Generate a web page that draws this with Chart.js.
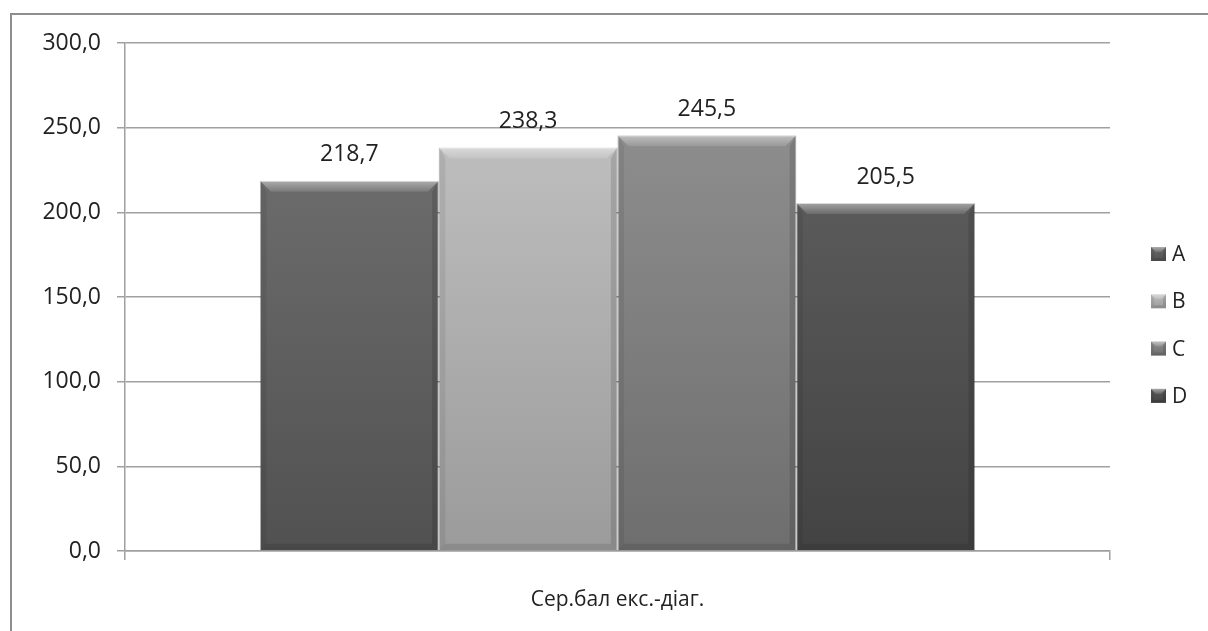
<!DOCTYPE html>
<html>
<head>
<meta charset="utf-8">
<script src="https://cdn.jsdelivr.net/npm/chart.js@4"></script>
<style>
  html, body { margin: 0; padding: 0; background: #fff; overflow: hidden; }
  #frame { position: absolute; left: 10px; top: 13px; width: 1300px; height: 700px; border: 2px solid #8e8e8e; box-sizing: border-box; }
  #wrap { position: absolute; left: 0; top: 0; width: 1208px; height: 631px; }
</style>
</head>
<body>
<div id="frame"></div>
<div id="wrap"><canvas id="scoreChart"></canvas></div>
<script>
const categories = ['Сер.бал екс.-діаг.'];
const groups = ['A', 'B', 'C', 'D'];
const scores = [218.7, 238.3, 245.5, 205.5];
const yTicks = [0, 50, 100, 150, 200, 250, 300];

// face shading per bar, lighter at the top
const shadeTop = ['#6b6b6b', '#bdbdbd', '#8d8d8d', '#5a5a5a'];
const shadeBottom = ['#515151', '#9b9b9b', '#6e6e6e', '#434343'];

const FONT = "'Open Sans', 'DejaVu Sans', sans-serif";
const fmt = v => Number(v).toFixed(1).replace('.', ',');

function poly(c, pts, fill) {
    c.beginPath();
    c.moveTo(pts[0][0], pts[0][1]);
    for (let k = 1; k < pts.length; k++) c.lineTo(pts[k][0], pts[k][1]);
    c.closePath();
    c.fillStyle = fill;
    c.fill();
}

// bevelled edges on a rectangle
function drawBevel(c, l, r, top, bottom, b) {
    const g = c.createLinearGradient(0, top, 0, top + b);
    g.addColorStop(0, 'rgba(255,255,255,0.45)');
    g.addColorStop(1, 'rgba(255,255,255,0.10)');
    poly(c, [[l, top], [r, top], [r - b, top + b], [l + b, top + b]], g);
    const s = b * 0.6;
    poly(c, [[l, top], [l + s, top + b], [l + s, bottom - s], [l, bottom]], 'rgba(0,0,0,0.07)');
    poly(c, [[r, top], [r - s, top + b], [r - s, bottom - s], [r, bottom]], 'rgba(0,0,0,0.12)');
    poly(c, [[l, bottom], [l + s, bottom - s], [r - s, bottom - s], [r, bottom]], 'rgba(0,0,0,0.10)');
}

const bevelPlugin = {
    id: 'bevel',
    afterDatasetsDraw(chart) {
        const c = chart.ctx;
        c.save();
        chart.data.datasets.forEach((ds, i) => {
            chart.getDatasetMeta(i).data.forEach(bar => {
                const { x, y, width, base } = bar.getProps(['x', 'y', 'width', 'base'], true);
                drawBevel(c, x - width / 2, x + width / 2, y, base, 11);
            });
        });
        c.restore();
    }
};

const valueLabels = {
    id: 'valueLabels',
    afterDatasetsDraw(chart) {
        const c = chart.ctx;
        c.save();
        c.font = '23px ' + FONT;
        c.fillStyle = '#222';
        c.textAlign = 'center';
        c.textBaseline = 'middle';
        chart.data.datasets.forEach((ds, i) => {
            chart.getDatasetMeta(i).data.forEach((bar, j) => {
                c.fillText(fmt(ds.data[j]), bar.x, bar.y - 26);
            });
        });
        c.restore();
    }
};

const sideLegend = {
    id: 'sideLegend',
    afterDraw(chart) {
        const c = chart.ctx;
        const area = chart.chartArea;
        const x0 = area.right + 41;
        const y0 = area.top + 211;
        c.save();
        c.font = '21px ' + FONT;
        c.textBaseline = 'middle';
        chart.data.datasets.forEach((ds, i) => {
            const cy = y0 + i * 47.3;
            const g = c.createLinearGradient(0, cy - 7, 0, cy + 7);
            g.addColorStop(0, shadeTop[i]);
            g.addColorStop(1, shadeBottom[i]);
            c.fillStyle = g;
            c.fillRect(x0, cy - 7, 15, 14);
            drawBevel(c, x0, x0 + 15, cy - 7, cy + 7, 5);
            c.fillStyle = '#222';
            c.fillText(ds.label, x0 + 21, cy + 1);
        });
        c.restore();
    }
};

const datasets = groups.map((name, i) => ({
    label: name,
    data: [scores[i]],
    backgroundColor: (ctx) => {
        const chart = ctx.chart;
        const area = chart.chartArea;
        if (!area) return shadeTop[i];
        const top = chart.scales.y.getPixelForValue(scores[i]);
        const g = chart.ctx.createLinearGradient(0, top, 0, area.bottom);
        g.addColorStop(0, shadeTop[i]);
        g.addColorStop(1, shadeBottom[i]);
        return g;
    },
    borderColor: 'rgba(0,0,0,0.25)',
    borderWidth: 1,
    categoryPercentage: 0.726,
    barPercentage: 1
}));

new Chart(document.getElementById('scoreChart'), {
    type: 'bar',
    data: { labels: categories, datasets: datasets },
    options: {
        responsive: true,
        maintainAspectRatio: false,
        animation: false,
        layout: { padding: { left: 10, right: 98, top: 43, bottom: 0 } },
        plugins: {
            legend: { display: false },
            tooltip: { enabled: false }
        },
        scales: {
            x: {
                grid: { drawOnChartArea: false, drawTicks: true, tickLength: 9, color: '#a0a0a0', lineWidth: 1.5 },
                border: { color: '#a0a0a0', width: 1.5 },
                ticks: { color: '#222', font: { family: FONT, size: 21 }, padding: 27 },
                afterFit: (scale) => { scale.height = 80; }
            },
            y: {
                min: 0,
                max: 300,
                afterBuildTicks: (scale) => { scale.ticks = yTicks.map(v => ({ value: v })); },
                grid: { color: '#a0a0a0', lineWidth: 1.5, tickLength: 8 },
                border: { color: '#a0a0a0', width: 1.5 },
                ticks: { color: '#222', font: { family: FONT, size: 23 }, padding: 16, callback: fmt },
                afterFit: (scale) => { scale.width = 115; }
            }
        }
    },
    plugins: [bevelPlugin, valueLabels, sideLegend]
});
</script>
</body>
</html>
